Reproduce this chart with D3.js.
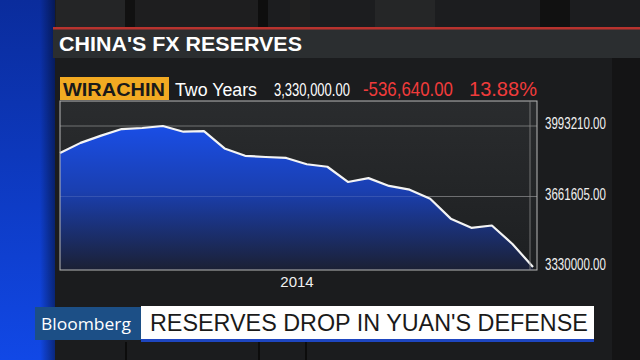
<!DOCTYPE html>
<html><head><meta charset="utf-8">
<script src="https://cdn.jsdelivr.net/npm/d3@7"></script>
<style>html,body{margin:0;padding:0;background:#1a1b1d;overflow:hidden}</style>
</head><body>
<script>
// ---- data ----
const months = ["2014-01","2014-02","2014-03","2014-04","2014-05","2014-06","2014-07","2014-08","2014-09","2014-10","2014-11","2014-12",
                "2015-01","2015-02","2015-03","2015-04","2015-05","2015-06","2015-07","2015-08","2015-09","2015-10","2015-11","2015-12"];
const reserves = [3866640,3913800,3948100,3978800,3983900,3993210,3966300,3968800,3887700,3852900,3847300,3843000,
                  3813400,3801500,3730000,3748100,3711200,3693800,3651300,3557400,3514100,3525300,3438300,3330000];
const yTicks = [3330000, 3661605, 3993210];
const xTickLabels = [{pos: 11.5, label: "2014"}];
const title = "CHINA'S FX RESERVES";
const ticker = "WIRACHIN";
const period = "Two Years";
const lastValue = "3,330,000.00";
const change = "-536,640.00";
const pctChange = "13.88%";
const headline = "RESERVES DROP IN YUAN'S DEFENSE";

const W = 640, H = 360;
const svg = d3.select("body").append("svg").attr("width", W).attr("height", H);
const defs = svg.append("defs");

// horizontally squeeze a text (anchored at start x,y) to a given width
function fit(sel, x, y, len) {
  const n = sel.node().getComputedTextLength();
  sel.attr("x", 0).attr("y", 0)
     .attr("transform", `translate(${x},${y}) scale(${len / n},1)`);
  return sel;
}

// backgrounds
const bl = defs.append("linearGradient").attr("id","blueStrip").attr("x1",0).attr("y1",0).attr("x2",0).attr("y2",1);
bl.append("stop").attr("offset","0%").attr("stop-color","#0a2c9c");
bl.append("stop").attr("offset","100%").attr("stop-color","#1148e6");
const bl2 = defs.append("linearGradient").attr("id","blueEdge").attr("x1",0).attr("y1",0).attr("x2",1).attr("y2",0);
bl2.append("stop").attr("offset","0%").attr("stop-color","#000").attr("stop-opacity",0);
bl2.append("stop").attr("offset","100%").attr("stop-color","#000").attr("stop-opacity",0.45);

svg.append("rect").attr("width",W).attr("height",H).attr("fill","#1b1c1e");
// studio at top
svg.append("rect").attr("x",0).attr("y",0).attr("width",W).attr("height",28).attr("fill","#1c1d1f");
[[56,70,"#242526"],[125,10,"#111"],[135,125,"#1e1e1f"],[258,10,"#0e0e0e"],[290,20,"#202020"],[375,60,"#252627"],[540,30,"#111"]].forEach(d=>{
  svg.append("rect").attr("x",d[0]).attr("y",0).attr("width",d[1]).attr("height",28).attr("fill",d[2]);
});
// right dark panel
svg.append("rect").attr("x",612).attr("y",58).attr("width",28).attr("height",H-58).attr("fill","#141415");
// bottom studio lines
[[125,2],[258,2],[305,2]].forEach(d=>{
  svg.append("rect").attr("x",d[0]).attr("y",342).attr("width",d[1]).attr("height",18).attr("fill","#0c0c0c");
});
// left blue strip
svg.append("rect").attr("x",0).attr("y",0).attr("width",55).attr("height",H).attr("fill","url(#blueStrip)");
svg.append("rect").attr("x",40).attr("y",0).attr("width",15).attr("height",H).attr("fill","url(#blueEdge)");

// title bar
svg.append("rect").attr("x",53).attr("y",28).attr("width",W-53).attr("height",30).attr("fill","#2b2e30");
svg.append("rect").attr("x",53).attr("y",27).attr("width",W-53).attr("height",2.5).attr("fill","#b8332e");
fit(svg.append("text").attr("font-family","Liberation Sans, Arial, sans-serif")
  .attr("font-weight","bold").attr("font-size",21).attr("fill","#ffffff").text(title), 59, 51, 243);

// header row
svg.append("rect").attr("x",60).attr("y",77).attr("width",109).attr("height",23).attr("fill","#f2aa22");
const hdr = (txt,x,len,size,col,weight) => fit(svg.append("text")
  .attr("font-family","Liberation Sans, Arial, sans-serif").attr("font-size",size).attr("fill",col)
  .attr("font-weight",weight||"normal").text(txt), x, 96, len);
hdr(ticker,63,102,19,"#1a1a1a","bold");
hdr(period,175,82,18,"#ffffff");
hdr(lastValue,274,76,18,"#ffffff");
hdr(change,363,90,20,"#f03b3b");
hdr(pctChange,469,68,21,"#f03b3b");

// plot
const px0 = 60, px1 = 537, py0 = 101, py1 = 270;
const pg = defs.append("linearGradient").attr("id","plotBg").attr("x1",0).attr("y1",0).attr("x2",0).attr("y2",1);
pg.append("stop").attr("offset","0%").attr("stop-color","#2a2c2e");
pg.append("stop").attr("offset","100%").attr("stop-color","#1d1f21");
svg.append("rect").attr("x",px0).attr("y",py0).attr("width",px1-px0).attr("height",py1-py0).attr("fill","url(#plotBg)");

const x = d3.scaleLinear().domain([0, months.length-1]).range([60, 533]);
const y = d3.scaleLinear().domain([yTicks[0], yTicks[2]]).range([267, 126]);

// gridlines
svg.append("g").selectAll("line").data(yTicks.slice(1)).join("line")
  .attr("x1",px0).attr("x2",px1).attr("y1",d=>y(d)).attr("y2",d=>y(d))
  .attr("stroke","#5a5c5e").attr("stroke-width",1);

const ag = defs.append("linearGradient").attr("id","areaGrad").attr("gradientUnits","userSpaceOnUse")
  .attr("x1",0).attr("y1",y(yTicks[2])).attr("x2",0).attr("y2",py1);
ag.append("stop").attr("offset","0%").attr("stop-color","#1a4ee6");
ag.append("stop").attr("offset","45%").attr("stop-color","#1a3fb0");
ag.append("stop").attr("offset","100%").attr("stop-color","#1b2034");

const area = d3.area().x((d,i)=>x(i)).y0(py1).y1(d=>y(d));
const line = d3.line().x((d,i)=>x(i)).y(d=>y(d));
svg.append("path").datum(reserves).attr("d",area).attr("fill","url(#areaGrad)");
// faint gridlines over area
svg.append("g").selectAll("line").data(yTicks.slice(1)).join("line")
  .attr("x1",px0).attr("x2",px1).attr("y1",d=>y(d)).attr("y2",d=>y(d))
  .attr("stroke","#ffffff").attr("stroke-opacity",0.12).attr("stroke-width",1);
svg.append("path").datum(reserves).attr("d",line).attr("fill","none")
  .attr("stroke","#f4f4f4").attr("stroke-width",2.2).attr("stroke-linejoin","round");

// frame
svg.append("rect").attr("x",px0).attr("y",py0).attr("width",px1-px0).attr("height",py1-py0)
  .attr("fill","none").attr("stroke","#b8b8b8").attr("stroke-width",1);
svg.append("line").attr("x1",530).attr("x2",530).attr("y1",py0).attr("y2",py1).attr("stroke","#888").attr("stroke-width",0.8);

// y axis labels (right)
const yAxis = d3.axisRight(y).tickValues(yTicks).tickSize(0).tickPadding(0).tickFormat(d=>d3.format(".2f")(d));
const ya = svg.append("g").call(yAxis);
ya.select(".domain").remove();
ya.selectAll(".tick").each(function(d){
  const t = d3.select(this).select("text")
    .attr("font-family","Liberation Sans, Arial, sans-serif").attr("font-size",16)
    .attr("fill","#f0f0f0").attr("dy",null);
  d3.select(this).attr("transform", null);
  fit(t, 545, y(d) + 3, 61);
});

// x axis label
const xa = svg.append("g").attr("transform","translate(0,287)")
  .call(d3.axisBottom(x).tickValues(xTickLabels.map(d=>d.pos)).tickSize(0).tickPadding(0)
    .tickFormat(v=>xTickLabels.find(t=>t.pos===v).label));
xa.select(".domain").remove();
xa.selectAll("text").attr("font-family","Liberation Sans, Arial, sans-serif").attr("font-size",15)
  .attr("fill","#f0f0f0").attr("dy",null).attr("y",0);

// bottom lower-third
svg.append("rect").attr("x",35).attr("y",307).attr("width",106).attr("height",33).attr("fill","#1c4f86");
fit(svg.append("text").attr("font-family","Open Sans, Liberation Sans, sans-serif")
  .attr("font-size",17).attr("fill","#ffffff").text("Bloomberg"), 41, 330, 90);
svg.append("rect").attr("x",141).attr("y",306).attr("width",453).attr("height",33).attr("fill","#ffffff");
svg.append("rect").attr("x",141).attr("y",339).attr("width",453).attr("height",3).attr("fill","#1e46c0");
fit(svg.append("text").attr("font-family","Liberation Sans, Arial, sans-serif")
  .attr("font-size",24).attr("fill","#1a1a1a").text(headline), 150, 331, 438);
</script>
</body></html>
